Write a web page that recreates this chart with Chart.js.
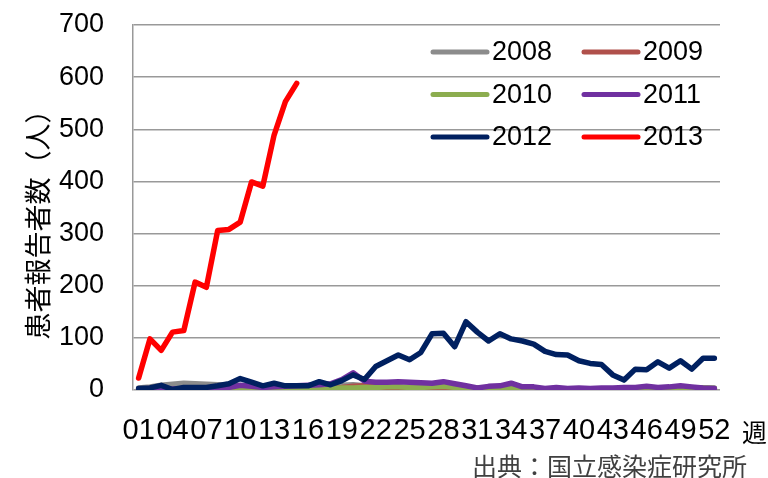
<!DOCTYPE html>
<html>
<head>
<meta charset="utf-8">
<script src="https://cdn.jsdelivr.net/npm/chart.js@4.4.0/dist/chart.umd.min.js"></script>
<style>
  html, body { margin: 0; padding: 0; background: #fff; }
  #wrap { width: 768px; height: 478px; position: relative; }
</style>
</head>
<body>
<div id="wrap"><canvas id="fluChart"></canvas></div>
<script>
// weeks 1..52
const weeks = Array.from({ length: 52 }, (_, i) => String(i + 1).padStart(2, "0"));
const seriesNames = ["2008", "2009", "2010", "2011", "2012", "2013"];
const seriesColors = ["#8c8c8c", "#b0504b", "#8cad4f", "#7030a0", "#002060", "#ff0000"];

const v2008 = [4,6,9,11,13,12,11,10,9,8,7,6,5,5,5,6,7,8,9,10,8,7,6,5,5,4,4,4,3,3,3,3,3,2,2,2,2,2,2,2,2,2,2,2,2,2,2,3,3,3,4,4];
const v2009 = [1,1,1,1,1,1,1,1,1,1,2,2,2,2,2,3,3,4,5,7,8,6,5,4,3,3,2,2,2,2,2,2,2,2,2,2,2,2,2,2,2,2,2,1,1,1,1,1,1,1,1,1];
const v2010 = [1,1,1,1,1,1,1,1,2,2,3,2,2,2,3,3,3,3,4,4,5,5,6,6,5,5,6,7,5,4,4,4,5,4,3,3,2,2,2,2,2,2,2,2,2,2,3,3,3,3,4,3];
const v2011 = [2,3,3,2,3,3,4,4,5,9,7,5,6,7,8,9,10,12,20,33,17,15,15,16,15,14,13,16,12,8,4,7,8,13,6,6,3,5,3,4,3,4,4,5,5,7,5,6,8,6,4,3];
const v2012 = [3,4,9,1,5,5,5,8,12,22,15,8,13,8,8,8,16,10,18,29,20,45,56,67,58,72,108,109,83,131,111,94,108,98,94,88,74,68,67,56,51,49,29,19,40,39,54,42,56,40,61,61];
const v2013 = [23,98,76,111,114,207,197,306,308,322,399,391,489,553,588];

const yTicks = [0, 100, 200, 300, 400, 500, 600, 700];
const yTitle = "患者報告者数（人）";
const xUnit = "週";
const sourceNote = "出典：国立感染症研究所";

const allValues = [v2008, v2009, v2010, v2011, v2012, v2013];

const NUM_FONT = "'Liberation Sans', Arial, sans-serif";
const CJK_FONT = "'Noto Sans CJK JP', sans-serif";

const extrasPlugin = {
  id: "extras",
  afterDraw(chart) {
    const { ctx } = chart;
    const xs = chart.scales.x;
    ctx.save();
    // y axis title
    ctx.fillStyle = "#000";
    ctx.font = "27px " + CJK_FONT;
    ctx.textAlign = "center";
    ctx.textBaseline = "middle";
    ctx.translate(38, 218);
    ctx.rotate(-Math.PI / 2);
    ctx.fillText(yTitle, 0, 0);
    ctx.restore();

    ctx.save();
    ctx.fillStyle = "#000";
    ctx.font = "25px " + CJK_FONT;
    ctx.textAlign = "left";
    ctx.textBaseline = "middle";
    ctx.fillText(xUnit, xs.right + 22, 432);
    ctx.fillStyle = "#404040";
    ctx.font = "25px " + CJK_FONT;
    ctx.textAlign = "right";
    ctx.fillText(sourceNote, 747, 466);

    // legend, two columns inside the plot
    ctx.font = "27px " + NUM_FONT;
    ctx.textAlign = "left";
    ctx.lineCap = "round";
    ctx.lineWidth = 5;
    seriesNames.forEach((name, i) => {
      const col = i % 2, row = Math.floor(i / 2);
      const x0 = 433 + col * 151;
      const y0 = 52 + row * 42.5;
      ctx.strokeStyle = seriesColors[i];
      ctx.beginPath();
      ctx.moveTo(x0, y0);
      ctx.lineTo(x0 + 54, y0);
      ctx.stroke();
      ctx.fillStyle = "#000";
      ctx.fillText(name, x0 + 59, y0 + 1);
    });
    ctx.restore();
  }
};

new Chart(document.getElementById("fluChart"), {
  type: "line",
  data: {
    labels: weeks,
    datasets: seriesNames.map((name, i) => ({
      label: name,
      data: allValues[i],
      borderColor: seriesColors[i],
      backgroundColor: seriesColors[i],
      borderWidth: 5.5,
      pointRadius: 0,
      tension: 0,
      borderJoinStyle: "round",
      borderCapStyle: "round",
      order: seriesNames.length - i,
    })),
  },
  options: {
    responsive: true,
    maintainAspectRatio: false,
    animation: false,
    layout: { padding: { left: 0, right: 48, top: 25, bottom: 0 } },
    plugins: {
      legend: { display: false },
      tooltip: { enabled: false },
    },
    scales: {
      x: {
        offset: true,
        grid: { display: false, drawTicks: false },
        border: { display: false },
        ticks: {
          autoSkip: false,
          maxRotation: 0,
          minRotation: 0,
          padding: 24,
          color: "#000",
          font: { size: 29, family: NUM_FONT },
          callback: (val, idx) => (idx % 3 === 0 ? weeks[idx] : ""),
        },
        afterFit: (scale) => { scale.height = 88; },
      },
      y: {
        min: 0,
        max: 700,
        afterBuildTicks: (scale) => { scale.ticks = yTicks.map(v => ({ value: v })); },
        grid: { color: "#999999", lineWidth: 1.5, drawTicks: false },
        border: { display: true, color: "#999999", width: 1.5 },
        ticks: {
          padding: 29,
          color: "#000",
          font: { size: 27, family: NUM_FONT },
        },
        afterFit: (scale) => {
          scale.width = 133;
          scale.paddingTop = 10;
          scale.paddingBottom = 10;
        },
      },
    },
  },
  plugins: [extrasPlugin],
});
</script>
</body>
</html>
